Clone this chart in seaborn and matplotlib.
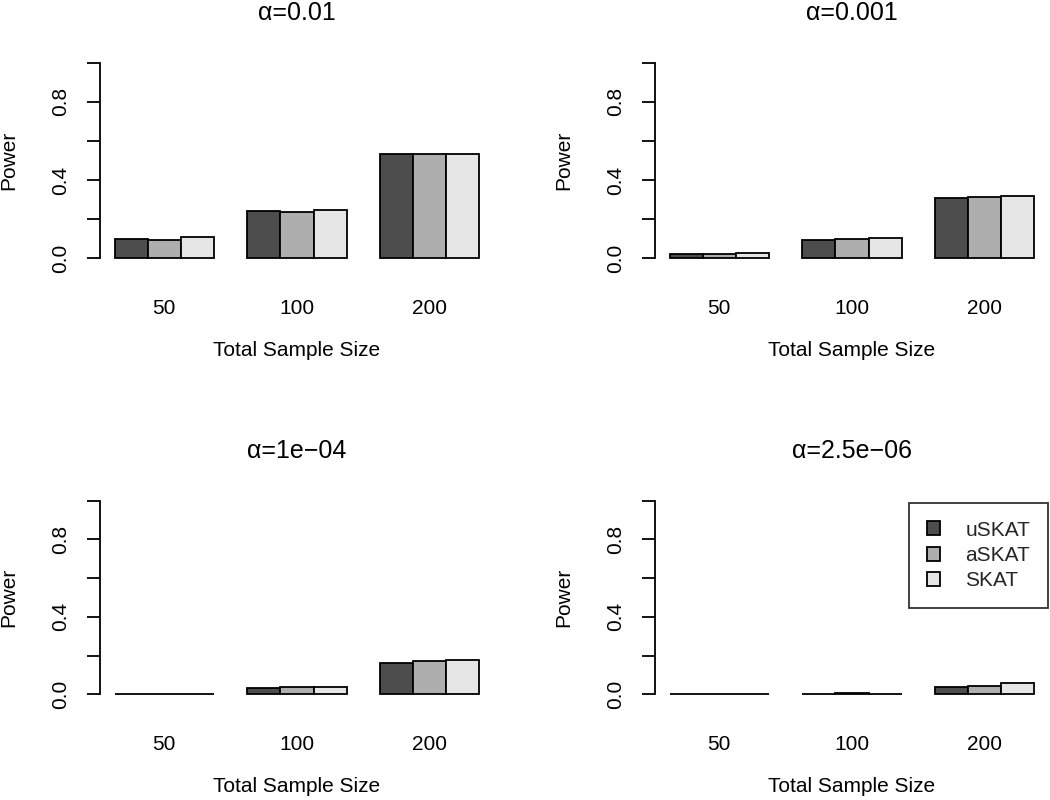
import matplotlib
matplotlib.use("Agg")
import matplotlib.pyplot as plt
import pandas as pd
import seaborn as sns

sizes = ["50", "100", "200"]
methods = ["uSKAT", "aSKAT", "SKAT"]
alphas = ["α=0.01", "α=0.001", "α=1e−04", "α=2.5e−06"]

# power values, rows = sample size, cols = method (uSKAT, aSKAT, SKAT)
power_a1 = [[0.099, 0.094, 0.109], [0.240, 0.236, 0.248], [0.533, 0.533, 0.533]]
power_a2 = [[0.019, 0.020, 0.026], [0.094, 0.099, 0.105], [0.310, 0.312, 0.318]]
power_a3 = [[0.001, 0.003, 0.002], [0.030, 0.037, 0.038], [0.160, 0.170, 0.177]]
power_a4 = [[0.000, 0.000, 0.000], [0.002, 0.004, 0.003], [0.036, 0.045, 0.057]]
all_power = [power_a1, power_a2, power_a3, power_a4]

colors = ["#4D4D4D", "#AEAEAE", "#E6E6E6"]

sns.set_theme(style="white")
plt.rcParams["font.family"] = ["Liberation Sans", "DejaVu Sans"]

fig = plt.figure(figsize=(10.5, 8), dpi=100)
W, H = 1050, 800
# axes boxes in pixels: left, top, right, bottom
boxes = [(100, 55, 494, 266), (655, 55, 1049, 266),
         (100, 493, 494, 702), (655, 493, 1049, 702)]

axes = []
for i, (l, t, r, b) in enumerate(boxes):
    ax = fig.add_axes([l / W, 1 - b / H, (r - l) / W, (b - t) / H])
    rows = []
    for si, s in enumerate(sizes):
        for mi, m in enumerate(methods):
            rows.append({"size": s, "method": m, "power": all_power[i][si][mi]})
    df = pd.DataFrame(rows)
    sns.barplot(data=df, x="size", y="power", hue="method", order=sizes,
                hue_order=methods, palette=colors, width=0.75, errorbar=None,
                edgecolor="black", linewidth=1.3, ax=ax, legend=(i == 3))
    ax.set_xlim(-0.485, 2.485)
    ax.set_ylim(-0.04, 1.04)
    ax.set_yticks([0, 0.2, 0.4, 0.6, 0.8, 1.0])
    ax.set_yticklabels(["0.0", "", "0.4", "", "0.8", ""], rotation=90, va="center")
    for sp in ["top", "right", "bottom"]:
        ax.spines[sp].set_visible(False)
    ax.spines["left"].set_bounds(0, 1)
    ax.spines["left"].set_color("black")
    ax.spines["left"].set_linewidth(1.3)
    ax.tick_params(axis="y", left=True, length=9.5, width=1.3, color="black",
                   pad=12, labelsize=15, labelcolor="black")
    ax.tick_params(axis="x", length=0, pad=24, labelsize=15, labelcolor="black")
    ax.set_xlabel("Total Sample Size", fontsize=15, labelpad=16, color="black")
    ax.set_ylabel("Power", fontsize=15, labelpad=24, color="black")
    ax.set_title(alphas[i], fontsize=18, pad=25, color="black")
    axes.append(ax)

leg_ax = axes[3]
handles, labels = leg_ax.get_legend_handles_labels()
leg_ax.legend(handles, labels, loc="upper right", bbox_to_anchor=(0.997, 0.952),
              borderaxespad=0, fontsize=15, frameon=True, fancybox=False,
              edgecolor="black", borderpad=0.85, handlelength=0.65,
              handleheight=0.65, handletextpad=1.2, labelspacing=0.3)
leg_ax.get_legend().get_frame().set_linewidth(1.3)

fig.savefig("out.png", dpi=100)
